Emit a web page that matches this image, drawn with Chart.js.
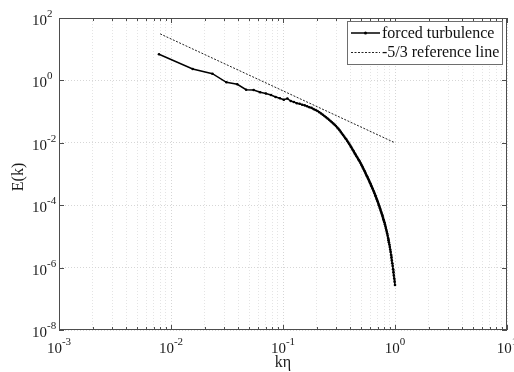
<!DOCTYPE html>
<html>
<head>
<meta charset="utf-8">
<script src="https://cdn.jsdelivr.net/npm/chart.js@4.4.1/dist/chart.umd.min.js"></script>
<style>
    html, body { margin: 0; padding: 0; background: #fff; }
    #wrap { width: 514px; height: 372px; }
</style>
</head>
<body>
<div id="wrap"><canvas id="spectrum" width="514" height="372"></canvas></div>
<script>
// Energy spectrum, log10 E(k) for each shell k*eta = n/128
const logE = [
    0.84, 0.365, 0.215, -0.06, -0.125, -0.30, -0.31, -0.38, -0.42, -0.47,
    -0.53, -0.57, -0.62, -0.58, -0.66, -0.69, -0.73, -0.75, -0.78, -0.80,
    -0.83, -0.86, -0.88, -0.92, -0.95, -0.98, -1.02, -1.06, -1.10, -1.14,
    -1.18, -1.22, -1.26, -1.30, -1.34, -1.38, -1.42, -1.46, -1.51, -1.55,
    -1.60, -1.65, -1.70, -1.75, -1.80, -1.85, -1.89, -1.94, -1.99, -2.04,
    -2.09, -2.14, -2.19, -2.24, -2.29, -2.34, -2.38, -2.43, -2.47, -2.52,
    -2.56, -2.60, -2.65, -2.70, -2.74, -2.79, -2.84, -2.89, -2.93, -2.98,
    -3.03, -3.07, -3.12, -3.16, -3.21, -3.26, -3.30, -3.35, -3.39, -3.44,
    -3.48, -3.53, -3.57, -3.62, -3.67, -3.71, -3.76, -3.81, -3.86, -3.90,
    -3.95, -4.00, -4.05, -4.10, -4.15, -4.20, -4.25, -4.30, -4.35, -4.40,
    -4.45, -4.50, -4.55, -4.61, -4.67, -4.73, -4.79, -4.85, -4.91, -4.98,
    -5.05, -5.12, -5.19, -5.26, -5.34, -5.42, -5.50, -5.59, -5.68, -5.77,
    -5.86, -5.95, -6.05, -6.15, -6.25, -6.35, -6.45, -6.56
];
const kEta = logE.map((_, i) => (i + 1) / 128);
const energy = logE.map(v => Math.pow(10, v));

// -5/3 reference line end points
const refK = [0.008, 1];
const refE = [31, 0.01];

const xDecades = [-3, -2, -1, 0, 1];
const yDecades = [-8, -6, -4, -2, 0, 2];
const seriesNames = ['forced turbulence', '-5/3 reference line'];

const FONT = '"Liberation Serif", "Times New Roman", serif';

// x grid: every 1..9 x 10^d
const xTickVals = [];
xDecades.forEach(d => {
    for (let m = 1; m <= 9; m++) {
        if (d === 1 && m > 1) break;
        xTickVals.push(m * Math.pow(10, d));
    }
});
const yTickVals = yDecades.map(d => Math.pow(10, d));

function isDecade(v) {
    const l = Math.log10(v);
    return Math.abs(l - Math.round(l)) < 1e-9;
}

function drawPower(ctx, exp, x, y, align) {
    const base = '10', sup = String(exp);
    ctx.font = '15px ' + FONT;
    const wb = ctx.measureText(base).width;
    ctx.font = '11px ' + FONT;
    const ws = ctx.measureText(sup).width;
    const x0 = align === 'center' ? x - (wb + ws) / 2 : x;
    ctx.textAlign = 'left';
    ctx.textBaseline = 'alphabetic';
    ctx.font = '15px ' + FONT;
    ctx.fillText(base, x0, y);
    ctx.font = '11px ' + FONT;
    ctx.fillText(sup, x0 + wb, y - 8);
}

// frame, inner ticks, tick labels, titles and legend
const axesDecor = {
    id: 'axesDecor',
    afterDraw(chart) {
        const ctx = chart.ctx;
        const area = chart.chartArea;
        const xs = chart.scales.x, ys = chart.scales.y;
        ctx.save();

        ctx.strokeStyle = '#4d4d4d';
        ctx.lineWidth = 1;
        ctx.strokeRect(area.left + 0.5, area.top + 0.5, area.right - area.left - 1, area.bottom - area.top - 1);

        ctx.beginPath();
        xTickVals.forEach(v => {
            const px = Math.round(xs.getPixelForValue(v)) + 0.5;
            const len = isDecade(v) ? 5 : 3;
            ctx.moveTo(px, area.bottom); ctx.lineTo(px, area.bottom - len);
            ctx.moveTo(px, area.top); ctx.lineTo(px, area.top + len);
        });
        yTickVals.forEach(v => {
            const py = Math.round(ys.getPixelForValue(v)) + 0.5;
            ctx.moveTo(area.left, py); ctx.lineTo(area.left + 5, py);
            ctx.moveTo(area.right, py); ctx.lineTo(area.right - 5, py);
        });
        ctx.stroke();

        ctx.fillStyle = '#1a1a1a';
        xDecades.forEach(d => {
            drawPower(ctx, d, xs.getPixelForValue(Math.pow(10, d)), area.bottom + 23, 'center');
        });
        yDecades.forEach(d => {
            drawPower(ctx, d, 32, ys.getPixelForValue(Math.pow(10, d)) + 7, 'left');
        });

        ctx.font = '16px ' + FONT;
        ctx.textAlign = 'center';
        ctx.textBaseline = 'alphabetic';
        ctx.fillText('kη', (area.left + area.right) / 2, 367);
        ctx.save();
        ctx.translate(19, (area.top + area.bottom) / 2 + 3);
        ctx.rotate(-Math.PI / 2);
        ctx.textBaseline = 'middle';
        ctx.fillText('E(k)', 0, 0);
        ctx.restore();

        // legend box
        const lx = 347, ly = 21, lw = 155, lh = 43;
        ctx.fillStyle = '#fff';
        ctx.fillRect(lx, ly, lw, lh);
        ctx.strokeStyle = '#6e6e6e';
        ctx.strokeRect(lx + 0.5, ly + 0.5, lw, lh);
        const rows = [33, 52];
        ctx.strokeStyle = '#000';
        ctx.lineWidth = 1.5;
        ctx.beginPath();
        ctx.moveTo(351, rows[0]); ctx.lineTo(380, rows[0]);
        ctx.stroke();
        ctx.fillStyle = '#000';
        ctx.beginPath();
        ctx.arc(365.5, rows[0], 1.5, 0, Math.PI * 2);
        ctx.fill();
        ctx.strokeStyle = '#222';
        ctx.lineWidth = 1;
        ctx.setLineDash([2, 1.5]);
        ctx.beginPath();
        ctx.moveTo(351, rows[1] + 0.5); ctx.lineTo(380, rows[1] + 0.5);
        ctx.stroke();
        ctx.setLineDash([]);
        ctx.fillStyle = '#111';
        ctx.font = '16px ' + FONT;
        ctx.textAlign = 'left';
        ctx.textBaseline = 'middle';
        seriesNames.forEach((name, i) => ctx.fillText(name, 382, rows[i] + 1));

        ctx.restore();
    }
};

const gridColor = c => (c.tick && isDecade(c.tick.value)) ? '#d6d6d6' : '#e4e4e4';

new Chart(document.getElementById('spectrum'), {
    type: 'scatter',
    data: {
        datasets: [{
            label: seriesNames[0],
            data: kEta.map((k, i) => ({ x: k, y: energy[i] })),
            showLine: true,
            borderColor: '#000',
            borderWidth: 1.5,
            pointRadius: 1.3,
            pointBorderWidth: 0,
            pointBackgroundColor: '#000'
        }, {
            label: seriesNames[1],
            data: refK.map((k, i) => ({ x: k, y: refE[i] })),
            showLine: true,
            borderColor: '#222',
            borderWidth: 1,
            borderDash: [2, 1.5],
            pointRadius: 0
        }]
    },
    options: {
        responsive: false,
        animation: false,
        devicePixelRatio: 1,
        layout: { padding: { left: 59, right: 7, top: 18, bottom: 42 } },
        plugins: { legend: { display: false }, tooltip: { enabled: false } },
        scales: {
            x: {
                type: 'logarithmic',
                min: 1e-3,
                max: 10,
                afterBuildTicks: s => { s.ticks = xTickVals.map(v => ({ value: v })); },
                ticks: { display: false },
                grid: { drawTicks: false, color: gridColor, lineWidth: 1 },
                border: { display: false, dash: [1, 2] }
            },
            y: {
                type: 'logarithmic',
                min: 1e-8,
                max: 100,
                afterBuildTicks: s => { s.ticks = yTickVals.map(v => ({ value: v })); },
                ticks: { display: false },
                grid: { drawTicks: false, color: gridColor, lineWidth: 1 },
                border: { display: false, dash: [1, 2] }
            }
        }
    },
    plugins: [axesDecor]
});
</script>
</body>
</html>
